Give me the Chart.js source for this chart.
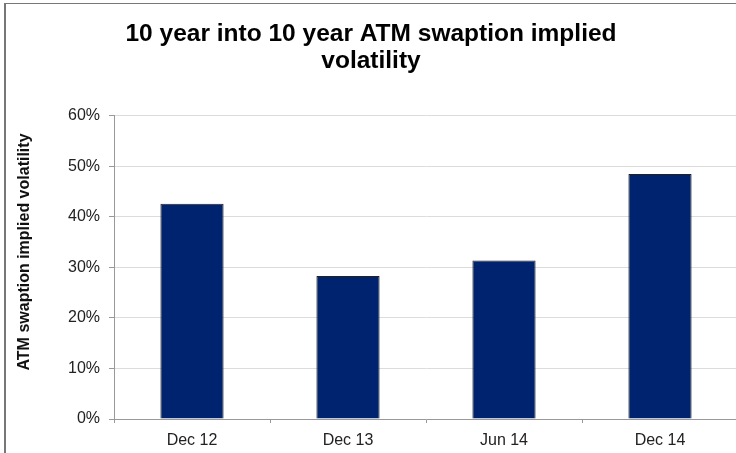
<!DOCTYPE html>
<html>
<head>
<meta charset="utf-8">
<script src="https://cdn.jsdelivr.net/npm/chart.js@4.4.1/dist/chart.umd.min.js"></script>
<style>
    html, body { margin: 0; padding: 0; background: #fff; overflow: hidden; }
    .frame {
        position: absolute; left: 4px; top: 3px; width: 800px; height: 500px;
        border-left: 2px solid #777; border-top: 1px solid #777;
    }
    #volChart { position: absolute; left: 0; top: 0; }
</style>
</head>
<body>
<div class="frame"></div>
<canvas id="volChart" width="740" height="453"></canvas>
<script>
// ── Swaption vol data ──
const dates      = ['Dec 12', 'Dec 13', 'Jun 14', 'Dec 14'];
const impliedVol = [42.6, 28.3, 31.4, 48.5];
const yTicks     = [0, 10, 20, 30, 40, 50, 60];
const yTitle     = 'ATM swaption implied volatility';

const font      = "'Liberation Sans', Arial, sans-serif";
const textColor = '#222';
const gridColor = '#dcdcdc';
const axisColor = '#999';

// vertical axis caption, sits a little above the plot centre
const yCaption = {
    id: 'yCaption',
    afterDraw(chart) {
        const ctx = chart.ctx;
        ctx.save();
        ctx.translate(25, 252);
        ctx.rotate(-Math.PI / 2);
        ctx.font = 'bold 16px ' + font;
        ctx.fillStyle = '#111';
        ctx.textAlign = 'center';
        ctx.textBaseline = 'middle';
        ctx.fillText(yTitle, 0, 0);
        ctx.restore();
    }
};

new Chart(document.getElementById('volChart'), {
    type: 'bar',
    data: {
        labels: dates,
        datasets: [{
            data: impliedVol,
            backgroundColor: '#00236f',
            borderColor: '#222',
            borderWidth: 1,
            barPercentage: 0.405,
            categoryPercentage: 1,
        }]
    },
    options: {
        responsive: false,
        animation: false,
        layout: { padding: { left: 4, right: 2, top: 0, bottom: 0 } },
        plugins: {
            legend: { display: false },
            tooltip: { enabled: false },
            title: {
                display: true,
                text: ['10 year into 10 year ATM swaption implied', 'volatility'],
                color: '#000',
                font: { family: font, size: 24.5, weight: 'bold', lineHeight: 1.1 },
                padding: { top: 21, bottom: 41 },
            }
        },
        scales: {
            x: {
                offset: true,
                grid: {
                    offset: true,
                    drawOnChartArea: false,
                    tickLength: 4,
                    color: axisColor,
                },
                border: { color: axisColor },
                ticks: { color: textColor, padding: 8, font: { family: font, size: 16 } },
                afterFit: s => { s.height = 34; }
            },
            y: {
                min: 0,
                max: 60,
                afterBuildTicks: s => { s.ticks = yTicks.map(v => ({ value: v })); },
                grid: { color: gridColor, tickLength: 5, tickColor: axisColor },
                border: { color: axisColor },
                ticks: {
                    color: textColor,
                    padding: 9,
                    font: { family: font, size: 16 },
                    callback: v => v + '%',
                },
                afterFit: s => { s.width = 110; }
            }
        }
    },
    plugins: [yCaption]
});
</script>
</body>
</html>
